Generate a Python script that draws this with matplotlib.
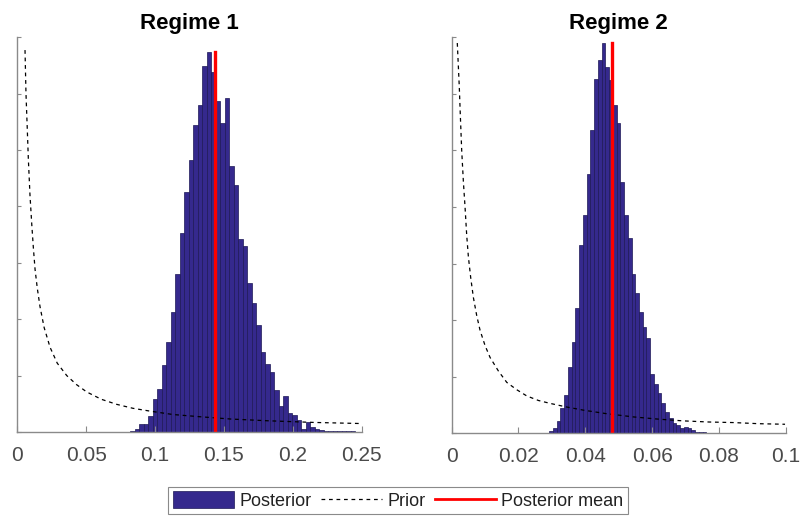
import numpy as np
import matplotlib
matplotlib.use('Agg')
import matplotlib.pyplot as plt
from matplotlib.patches import Patch
from matplotlib.lines import Line2D

plt.rcParams['font.family'] = ['Liberation Sans', 'DejaVu Sans']

# histogram counts, 50 bins each
bin_start_1 = 0.0819
bin_width_1 = 0.00327
counts_1 = [2, 6, 14, 15, 28, 58, 77, 119, 160, 212,
            280, 353, 426, 483, 544, 580, 649, 674, 639, 586,
            547, 592, 472, 438, 343, 329, 264, 229, 190, 142,
            121, 106, 74, 46, 63, 34, 30, 22, 5, 17,
            9, 5, 3, 2, 2, 1, 1, 1, 1, 1]
mean_1 = 0.1437

bin_start_2 = 0.0292
bin_width_2 = 0.00112
counts_2 = [4, 9, 22, 45, 68, 118, 162, 221, 333, 386,
            459, 536, 627, 660, 690, 648, 625, 580, 548, 445,
            386, 345, 281, 248, 215, 188, 168, 104, 88, 71,
            53, 38, 27, 18, 14, 10, 12, 9, 6, 3,
            2, 2, 1, 1, 0, 1, 0, 1, 0, 1]
mean_2 = 0.0479

# prior curve, points
prior_x_1 = [0.0056, 0.0063, 0.0072, 0.0080, 0.0092, 0.0105, 0.0117, 0.0129, 0.0145,
             0.0165, 0.0195, 0.0238, 0.0290, 0.0359, 0.0430, 0.0504, 0.0610, 0.0722,
             0.0840, 0.0964, 0.1130, 0.133, 0.155, 0.181, 0.215, 0.25]
prior_y_1 = [677, 600, 540, 485, 420, 368, 325, 288, 255,
             222, 185, 150, 122, 100, 84, 71, 58, 49,
             42, 37, 31, 27, 23, 20, 17, 15]

prior_x_2 = [0.00168, 0.00228, 0.0026, 0.0030, 0.0035, 0.0040, 0.0045, 0.0050, 0.0057,
             0.0065, 0.0075, 0.0085, 0.0100, 0.0115, 0.0140, 0.0165, 0.0195, 0.0225,
             0.0260, 0.0294, 0.0340, 0.0394, 0.0460, 0.0544, 0.0620, 0.0693, 0.0770,
             0.0843, 0.0920, 0.0998]
prior_y_2 = [690, 612, 560, 500, 445, 400, 350, 312, 275,
             240, 208, 182, 155, 134, 110, 90, 77, 66,
             58, 53, 47, 41, 35, 29, 25, 22, 20,
             19, 17, 16]

bar_color = '#35298d'
edge_color = '#1d1856'
grey = '#8a8a8a'
tick_color = '#4a4a4a'

fig = plt.figure(figsize=(8.01, 5.21), dpi=100)
ax1 = fig.add_axes([0.0216, 0.1708, 0.430, 0.758])
ax2 = fig.add_axes([0.5639, 0.1683, 0.417, 0.760])


def draw_panel(ax, start, width, counts, prior_x, prior_y, mean, xmax, xticks, xlabels, title):
    edges = start + width * np.arange(len(counts))
    ax.bar(edges, counts, width=width, align='edge', color=bar_color,
           edgecolor=edge_color, linewidth=0.5)
    ax.plot(prior_x, prior_y, color='black', linestyle=(0, (3, 3)), linewidth=0.9)
    ax.plot([mean, mean], [0, max(counts)], color='#ff0000', linewidth=2.4)
    ax.set_xlim(0, xmax)
    ax.set_ylim(0, 700)
    ax.set_xticks(xticks)
    ax.set_xticklabels(xlabels)
    ax.set_yticks(np.arange(0, 701, 100))
    ax.set_yticklabels([])
    ax.tick_params(direction='in', length=4, width=0.8, color=grey,
                   labelsize=15, labelcolor=tick_color, pad=10)
    ax.tick_params(axis='y', length=3)
    for s in ['top', 'right']:
        ax.spines[s].set_visible(False)
    for s in ['left', 'bottom']:
        ax.spines[s].set_color(grey)
        ax.spines[s].set_linewidth(1.0)
    ax.set_title(title, fontsize=16, fontweight='bold', pad=6)


draw_panel(ax1, bin_start_1, bin_width_1, counts_1, prior_x_1, prior_y_1, mean_1,
           0.25, [0, 0.05, 0.1, 0.15, 0.2, 0.25],
           ['0', '0.05', '0.1', '0.15', '0.2', '0.25'], 'Regime 1')
draw_panel(ax2, bin_start_2, bin_width_2, counts_2, prior_x_2, prior_y_2, mean_2,
           0.1, [0, 0.02, 0.04, 0.06, 0.08, 0.1],
           ['0', '0.02', '0.04', '0.06', '0.08', '0.1'], 'Regime 2')

handles = [Patch(facecolor=bar_color, edgecolor=edge_color, linewidth=0.5),
           Line2D([], [], color='black', linestyle=(0, (3, 3)), linewidth=0.9),
           Line2D([], [], color='#ff0000', linewidth=2.0)]
leg = fig.legend(handles, ['Posterior', 'Prior', 'Posterior mean'], ncol=3,
                 loc='center', bbox_to_anchor=(0.497, 0.0393), fontsize=13,
                 frameon=True, fancybox=False, edgecolor=grey, framealpha=1,
                 handlelength=3.4, handleheight=1.05, handletextpad=0.3,
                 columnspacing=0.5, borderpad=0.25, borderaxespad=0)
leg.get_frame().set_linewidth(0.8)
for t in leg.get_texts():
    t.set_color('#222222')

fig.savefig('out.png', dpi=100)
